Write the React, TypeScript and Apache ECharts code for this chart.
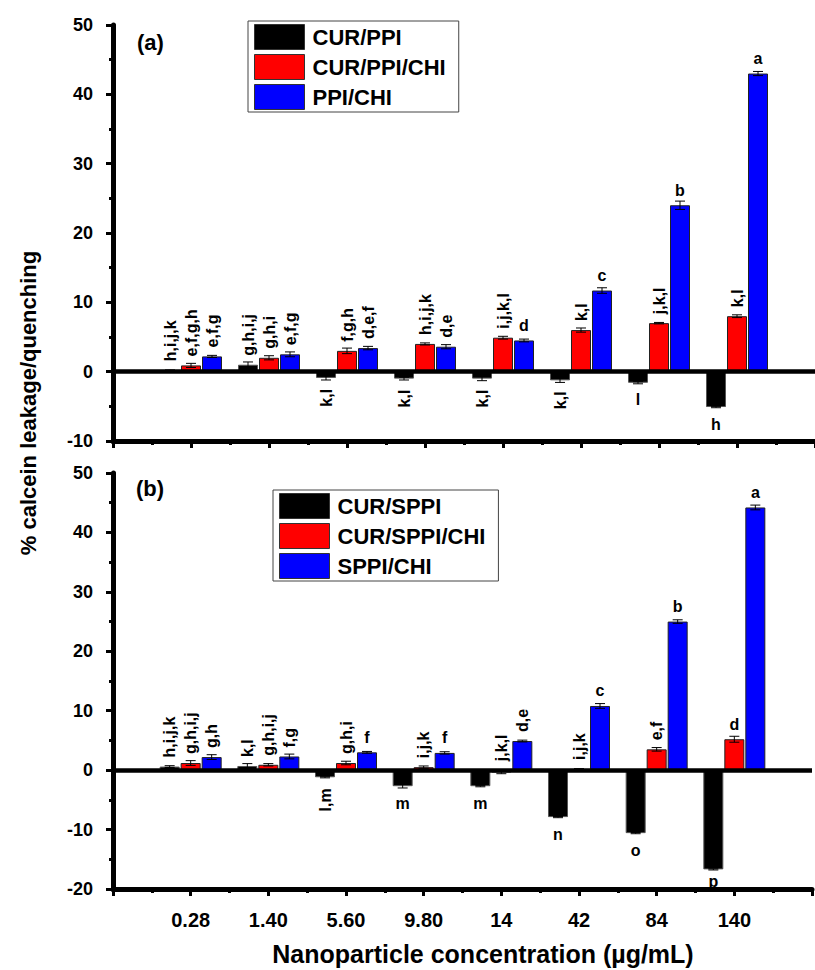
import React, { useEffect, useRef } from 'react';
import * as echarts from 'echarts';

const FONT = "'Liberation Sans', Arial, Helvetica, sans-serif";

// Categories (nanoparticle concentration, µg/mL)
const categories = ['0.28', '1.40', '5.60', '9.80', '14', '42', '84', '140'];

// Panel (a)
const namesA = ['CUR/PPI', 'CUR/PPI/CHI', 'PPI/CHI'];
const curPPI = [0.2, 1.0, -0.9, -1.0, -1.0, -1.25, -1.6, -5.1];
const curPPIErr = [0.05, 0.4, 0.3, 0.2, 0.3, 0.3, 0.15, 0.1];
const curPPIChi = [0.9, 2.0, 3.0, 4.0, 4.9, 6.0, 7.0, 8.0];
const curPPIChiErr = [0.3, 0.3, 0.4, 0.15, 0.2, 0.3, 0.1, 0.2];
const ppiChi = [2.2, 2.5, 3.4, 3.6, 4.5, 11.7, 24.0, 43.0];
const ppiChiErr = [0.15, 0.35, 0.25, 0.3, 0.2, 0.4, 0.6, 0.3];
const curPPILetters = ['h,i,j,k', 'g,h,i,j', 'k,l', 'k,l', 'k,l', 'k,l', 'l', 'h'];
const curPPIChiLetters = ['e,f,g,h', 'g,h,i', 'f,g,h', 'h,i,j,k', 'i,j,k,l', 'k,l', 'j,k,l', 'k,l'];
const ppiChiLetters = ['e,f,g', 'e,f,g', 'd,e,f', 'd,e', 'd', 'c', 'b', 'a'];

// Panel (b)
const namesB = ['CUR/SPPI', 'CUR/SPPI/CHI', 'SPPI/CHI'];
const curSPPI = [0.6, 0.7, -1.2, -2.7, -2.7, -7.9, -10.6, -16.7];
const curSPPIErr = [0.15, 0.4, 0.1, 0.3, 0.1, 0.1, 0.1, 0.1];
const curSPPIChi = [1.2, 0.9, 1.2, 0.5, -0.4, 0.2, 3.5, 5.2];
const curSPPIChiErr = [0.4, 0.2, 0.3, 0.2, 0.2, 0.05, 0.3, 0.5];
const sppiChi = [2.2, 2.3, 3.0, 2.9, 4.9, 10.8, 25.0, 44.2];
const sppiChiErr = [0.4, 0.4, 0.15, 0.2, 0.15, 0.4, 0.3, 0.4];
const curSPPILetters = ['h,i,j,k', 'k,l', 'l,m', 'm', 'm', 'n', 'o', 'p'];
const curSPPIChiLetters = ['g,h,i,j', 'g,h,i,j', 'g,h,i', 'i,j,k', 'j,k,l', 'i,j,k', 'e,f', 'd'];
const sppiChiLetters = ['g,h', 'f,g', 'f', 'f', 'd,e', 'c', 'b', 'a'];

const yMinA = -10;
const yMinB = -20;
const yMax = 50;

const colors = ['#000000', '#ff0000', '#0000ff'];
const BAR_W = 20;
const OFFSETS = [-21, 0, 21];
const GRID_H = 416;

function labelFor(text: string, value: number, yMin: number) {
  const below = value < -0.5;
  const rot = text.length > 1;
  let distance = rot ? (below ? 11 : 9) : (below ? 9 : 7);
  if (below && !rot) {
    const pxPerUnit = GRID_H / (yMax - yMin);
    const avail = (value - yMin) * pxPerUnit - 16;
    distance = Math.min(distance, Math.max(0, avail));
  }
  return {
    show: true,
    formatter: text,
    position: below ? 'bottom' : 'top',
    distance,
    rotate: rot ? 90 : 0,
    align: rot ? (below ? 'right' : 'left') : 'center',
    verticalAlign: rot ? 'middle' : below ? 'top' : 'bottom',
    fontSize: 16,
    fontWeight: 'bold',
    color: '#000',
    fontFamily: FONT,
  };
}

function barSeries(name: string, vals: number[], letters: string[], idx: number, axis: number, yMin: number, zeroLine: boolean) {
  const s: any = {
    name,
    type: 'bar',
    xAxisIndex: axis,
    yAxisIndex: axis,
    barWidth: BAR_W,
    barGap: '5%',
    itemStyle: { color: colors[idx], borderColor: idx === 0 ? '#555' : '#222', borderWidth: 1 },
    data: vals.map((v, i) => ({ value: [i + 1, v], label: labelFor(letters[i], v, yMin) })),
    z: 2,
  };
  if (zeroLine) {
    s.markLine = {
      silent: true,
      symbol: 'none',
      label: { show: false },
      lineStyle: { color: '#000', width: 4.5, type: 'solid' },
      data: [{ yAxis: 0 }],
      z: 4,
    };
  }
  return s;
}

function errSeries(vals: number[], errs: number[], idx: number, axis: number) {
  const off = OFFSETS[idx];
  return {
    type: 'custom',
    name: 'err' + axis + '_' + idx,
    xAxisIndex: axis,
    yAxisIndex: axis,
    z: 5,
    silent: true,
    encode: { x: 0, y: 1 },
    data: vals.map((v, i) => [i + 1, v, errs[i]]),
    renderItem: (params: any, api: any) => {
      const x = api.value(0);
      const y = api.value(1);
      const e = api.value(2);
      const p = api.coord([x, y]);
      const hi = api.coord([x, y + e]);
      const lo = api.coord([x, y - e]);
      const cx = p[0] + off;
      const w = 5;
      const style = { stroke: '#000', lineWidth: 1 };
      return {
        type: 'group',
        children: [
          { type: 'line', shape: { x1: cx, y1: hi[1], x2: cx, y2: lo[1] }, style },
          { type: 'line', shape: { x1: cx - w, y1: hi[1], x2: cx + w, y2: hi[1] }, style },
          { type: 'line', shape: { x1: cx - w, y1: lo[1], x2: cx + w, y2: lo[1] }, style },
        ],
      };
    },
  };
}

function xAxisFor(gridIndex: number, showLabels: boolean) {
  return {
    type: 'value',
    gridIndex,
    min: 0,
    max: 9,
    interval: 1,
    axisLine: { show: true, onZero: false, lineStyle: { color: '#000', width: 5 } },
    axisTick: { show: true, length: 7, lineStyle: { color: '#000', width: 3 } },
    minorTick: { show: true, splitNumber: 2, length: 4, lineStyle: { color: '#000', width: 3 } },
    splitLine: { show: false },
    minorSplitLine: { show: false },
    axisLabel: {
      show: showLabels,
      margin: 21,
      fontSize: 20,
      fontWeight: 'bold',
      color: '#000',
      fontFamily: FONT,
      formatter: (v: number) => (v >= 1 && v <= categories.length ? categories[v - 1] : ''),
    },
  };
}

function yAxisFor(gridIndex: number, min: number) {
  return {
    type: 'value',
    gridIndex,
    min,
    max: yMax,
    interval: 10,
    axisLine: { show: true, onZero: false, lineStyle: { color: '#000', width: 5 } },
    axisTick: { show: true, length: 7, lineStyle: { color: '#000', width: 3 } },
    minorTick: { show: true, splitNumber: 2, length: 4, lineStyle: { color: '#000', width: 3 } },
    splitLine: { show: false },
    minorSplitLine: { show: false },
    axisLabel: { margin: 20, fontSize: 18, fontWeight: 'bold', color: '#000', fontFamily: FONT },
  };
}

function legendFor(names: string[], left: number, top: number) {
  return {
    data: names,
    orient: 'vertical',
    left,
    top,
    icon: 'rect',
    itemWidth: 50,
    itemHeight: 25,
    itemGap: 4,
    padding: [3, 13, 2, 6],
    borderColor: '#444',
    borderWidth: 1,
    backgroundColor: '#fff',
    selectedMode: false,
    itemStyle: { borderColor: '#333', borderWidth: 1 },
    textStyle: { fontSize: 22, fontWeight: 'bold', color: '#000', fontFamily: FONT, padding: [0, 0, 0, 3] },
  };
}

export default function App() {
  const ref = useRef<HTMLDivElement>(null);
  useEffect(() => {
    if (!ref.current) return;
    const chart = echarts.init(ref.current, null, { renderer: 'svg' });
    const option: any = {
      animation: false,
      backgroundColor: '#fff',
      grid: [
        { left: 113, top: 25, width: 707, height: GRID_H },
        { left: 113, top: 473, width: 707, height: GRID_H },
      ],
      xAxis: [xAxisFor(0, false), xAxisFor(1, true)],
      yAxis: [yAxisFor(0, yMinA), yAxisFor(1, yMinB)],
      legend: [legendFor(namesA, 248, 21), legendFor(namesB, 273, 490)],
      series: [
        barSeries(namesA[0], curPPI, curPPILetters, 0, 0, yMinA, false),
        barSeries(namesA[1], curPPIChi, curPPIChiLetters, 1, 0, yMinA, false),
        barSeries(namesA[2], ppiChi, ppiChiLetters, 2, 0, yMinA, true),
        errSeries(curPPI, curPPIErr, 0, 0),
        errSeries(curPPIChi, curPPIChiErr, 1, 0),
        errSeries(ppiChi, ppiChiErr, 2, 0),
        barSeries(namesB[0], curSPPI, curSPPILetters, 0, 1, yMinB, false),
        barSeries(namesB[1], curSPPIChi, curSPPIChiLetters, 1, 1, yMinB, false),
        barSeries(namesB[2], sppiChi, sppiChiLetters, 2, 1, yMinB, true),
        errSeries(curSPPI, curSPPIErr, 0, 1),
        errSeries(curSPPIChi, curSPPIChiErr, 1, 1),
        errSeries(sppiChi, sppiChiErr, 2, 1),
      ],
      graphic: [
        {
          type: 'text', left: 137, top: 31,
          style: { text: '(a)', fontSize: 22, fontWeight: 'bold', fill: '#000', fontFamily: FONT },
        },
        {
          type: 'text', left: 136, top: 477,
          style: { text: '(b)', fontSize: 22, fontWeight: 'bold', fill: '#000', fontFamily: FONT },
        },
        {
          type: 'text', x: 28, y: 403, rotation: Math.PI / 2,
          style: {
            text: '% calcein leakage/quenching', fontSize: 22, fontWeight: 'bold', fill: '#000',
            fontFamily: FONT, align: 'center', verticalAlign: 'middle',
          },
        },
        {
          type: 'text', x: 483, y: 954,
          style: {
            text: 'Nanoparticle concentration (µg/mL)', fontSize: 25, fontWeight: 'bold', fill: '#000',
            fontFamily: FONT, align: 'center', verticalAlign: 'middle',
          },
        },
      ],
    };
    chart.setOption(option);
    return () => chart.dispose();
  }, []);
  return <div ref={ref} style={{ position: 'absolute', left: 0, top: 0, width: 815, height: 970 }} />;
}
